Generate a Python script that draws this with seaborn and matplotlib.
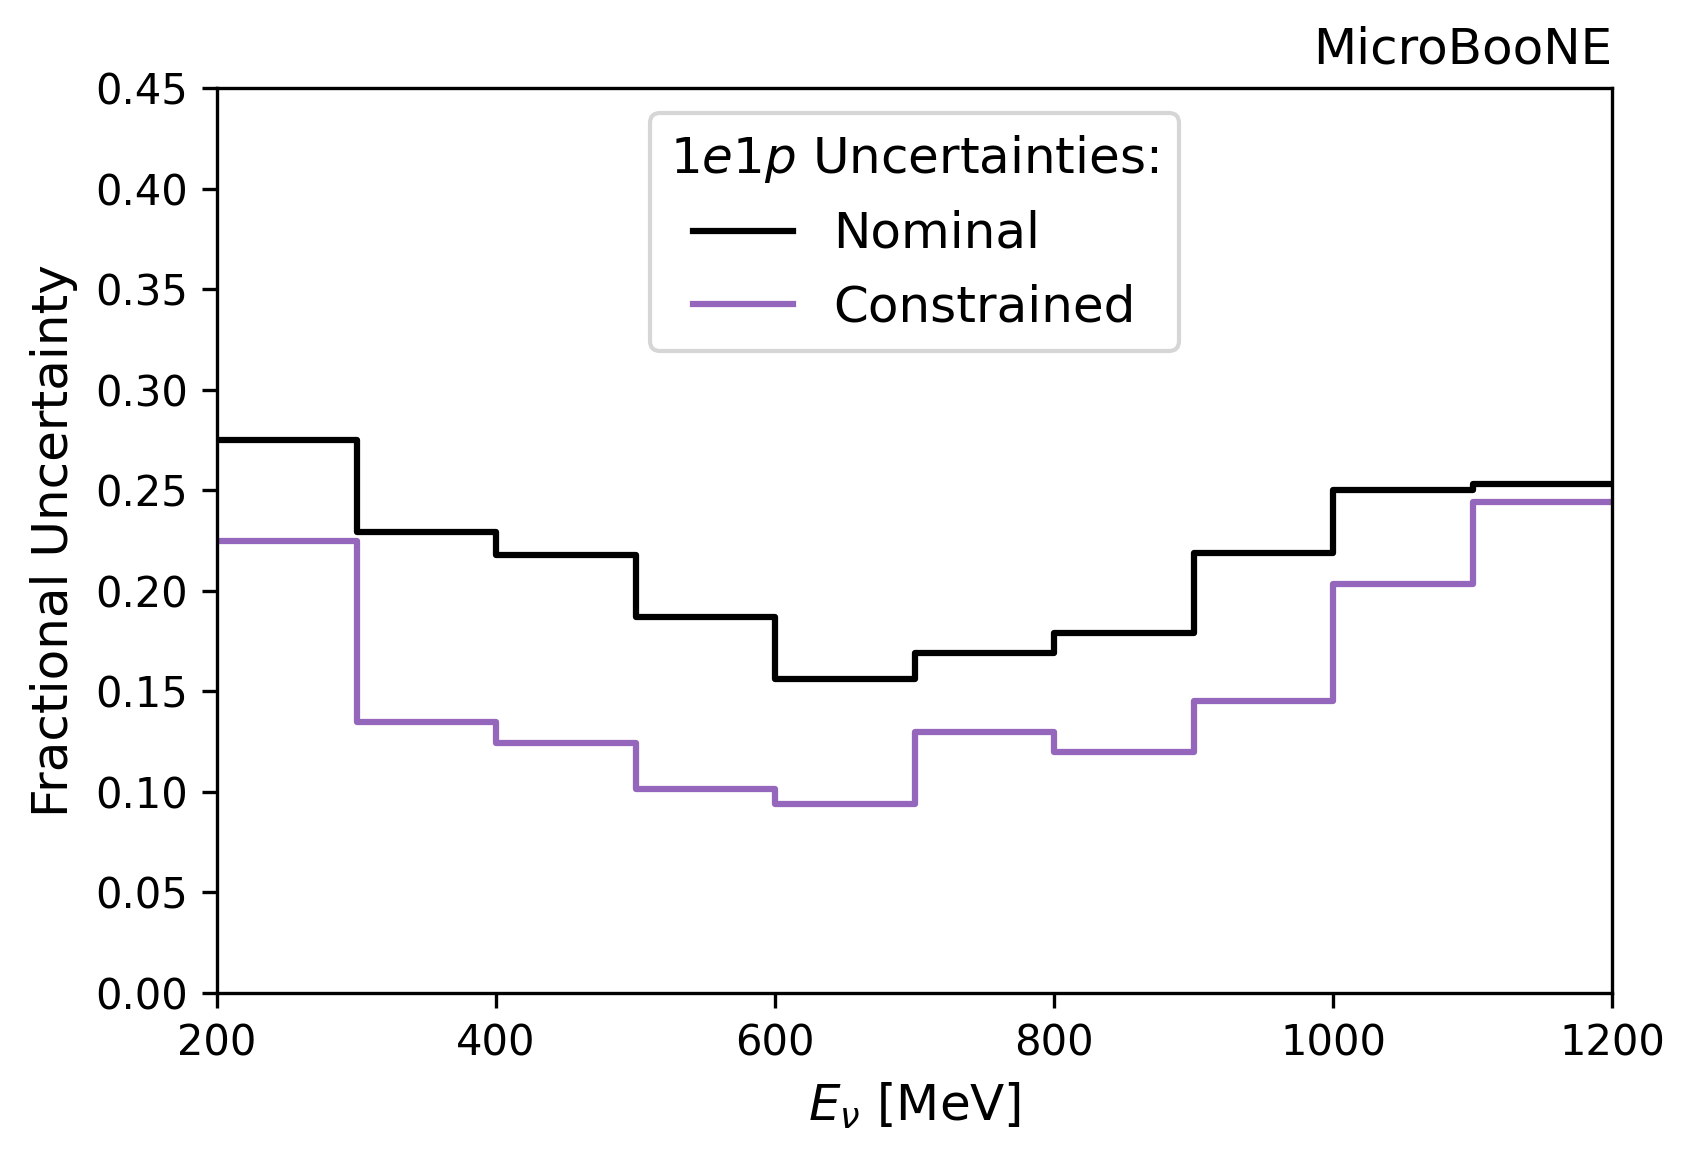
import numpy as np
import pandas as pd
import matplotlib
matplotlib.use("Agg")
import matplotlib.pyplot as plt
import seaborn as sns

# Bin edges (MeV)
bin_edges = [200, 300, 400, 500, 600, 700, 800, 900, 1000, 1100, 1200]
# Fractional uncertainties per bin
nominal = [0.275, 0.229, 0.218, 0.187, 0.156, 0.169, 0.179, 0.219, 0.250, 0.253]
constrained = [0.225, 0.135, 0.1245, 0.1015, 0.094, 0.130, 0.120, 0.145, 0.2035, 0.244]

series_names = ["Nominal", "Constrained"]
series_colors = ["black", "#9467bd"]

plt.rcParams["font.family"] = ["DejaVu Sans"]
plt.rcParams["mathtext.fontset"] = "dejavusans"

centers = [(a + b) / 2 for a, b in zip(bin_edges[:-1], bin_edges[1:])]
df = pd.DataFrame({
    "E": centers * 2,
    "w": nominal + constrained,
    "series": [series_names[0]] * len(nominal) + [series_names[1]] * len(constrained),
})

fig = plt.figure(figsize=(1694 / 300, 1162 / 300), dpi=300)
ax = fig.add_axes([217 / 1694, 1 - 993 / 1162, (1612 - 217) / 1694, (993 - 88) / 1162])

for name, color in zip(series_names, series_colors):
    sub = df[df["series"] == name]
    sns.histplot(data=sub, x="E", weights="w", bins=bin_edges, element="step",
                 fill=False, color=color, linewidth=1.5, label=name, ax=ax)

ax.set_xlim(200, 1200)
ax.set_ylim(0, 0.45)
ax.set_yticks(np.arange(0, 0.451, 0.05))
ax.set_yticklabels([f"{v:.2f}" for v in np.arange(0, 0.451, 0.05)])
ax.set_xticks([200, 400, 600, 800, 1000, 1200])
ax.tick_params(labelsize=10)
ax.set_xlabel(r"$E_\nu$ [MeV]", fontsize=12)
ax.set_ylabel("Fractional Uncertainty", fontsize=12)
ax.set_title("MicroBooNE", loc="right", fontsize=12)

leg = ax.legend(loc="upper center", title=r"$1e1p$ Uncertainties:", fontsize=12,
                title_fontsize=12)

fig.savefig("out.png", dpi=300)
